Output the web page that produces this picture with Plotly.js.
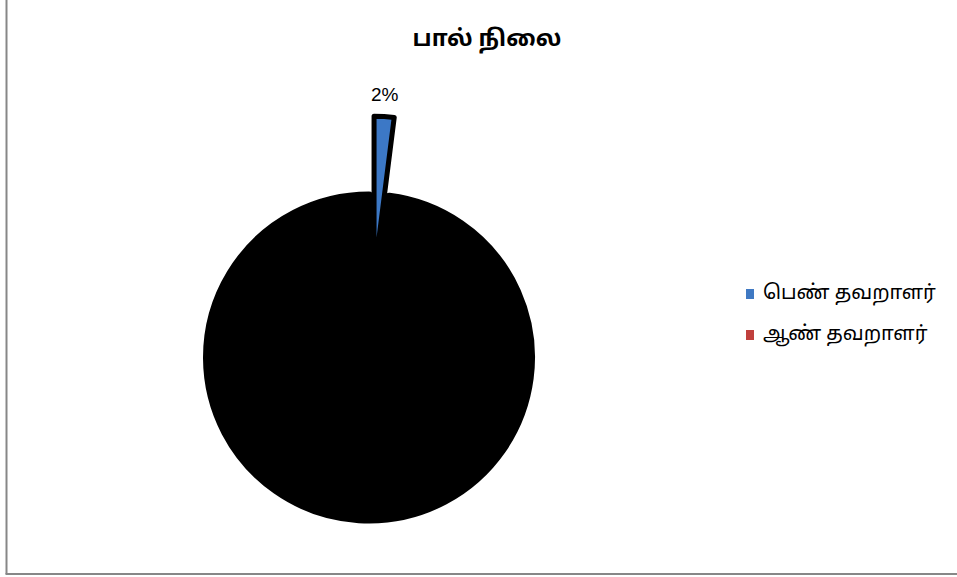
<!DOCTYPE html>
<html>
<head>
<meta charset="utf-8">
<script src="https://cdn.plot.ly/plotly-3.0.1.min.js"></script>
<style>
html, body { margin: 0; padding: 0; overflow: hidden; background: #ffffff; }
#chart { width: 957px; height: 700px; }
</style>
</head>
<body>
<div id="chart"></div>
<script>
// ---- data ----
const chartTitle = "பால் நிலை";
const labels = ["பெண் தவறாளர்", "ஆண் தவறாளர்"];
const values = [2, 98];
const legendColors = ["#3F79C3", "#C0403D"];
const sliceColors = ["#3C78C6", "#000000"];

// ---- geometry helpers (div is taller than the window; extra bottom is cropped) ----
const W = 957, H = 700;
const px = x => x / W;
const py = y => (H - y) / H;

const tamilFont = "'Noto Sans Tamil', 'Lohit Tamil', 'Noto Sans', 'DejaVu Sans', sans-serif";

const pullFrac = 0.5;
const rPx = 161;
const half = rPx * (1 + pullFrac);
const cx = 369, cy = 357.5;

const trace = {
  type: "pie",
  labels: labels,
  values: values,
  sort: false,
  direction: "clockwise",
  rotation: 0,
  pull: [pullFrac, 0],
  marker: {
    colors: sliceColors,
    line: { color: "#000000", width: [5, 10] }
  },
  textinfo: "none",
  showlegend: false,
  hoverinfo: "label+percent",
  domain: { x: [px(cx - half), px(cx + half)], y: [py(cy + half), py(cy - half)] }
};

const total = values.reduce((a, b) => a + b, 0);
const pctText = Math.round(100 * values[0] / total) + "%";

const shapes = [
  { type: "line", xref: "paper", yref: "paper", x0: px(6.5), x1: px(6.5), y0: py(-5), y1: py(574), line: { color: "#878787", width: 2 } },
  { type: "line", xref: "paper", yref: "paper", x0: px(5.5), x1: px(962), y0: py(574), y1: py(574), line: { color: "#878787", width: 2 } }
];
const annotations = [
  { xref: "paper", yref: "paper", x: px(385), y: py(95), xanchor: "center", yanchor: "middle",
    showarrow: false, text: pctText,
    font: { family: "'Liberation Sans', Arial, sans-serif", size: 19, color: "#000000" } }
];
const legendY = [294, 335];
labels.forEach((lab, i) => {
  shapes.push({
    type: "rect", xref: "paper", yref: "paper",
    x0: px(746), x1: px(754), y0: py(legendY[i] + 5), y1: py(legendY[i] - 5),
    fillcolor: legendColors[i], line: { width: 0 }
  });
  annotations.push({
    xref: "paper", yref: "paper", x: px(761), y: py(legendY[i]),
    xanchor: "left", yanchor: "middle", showarrow: false,
    text: lab, font: { family: tamilFont, size: 20, color: "#000000" }
  });
});

const layout = {
  width: W, height: H,
  margin: { l: 0, r: 0, t: 0, b: 0 },
  paper_bgcolor: "#ffffff",
  title: {
    text: "<b>" + chartTitle + "</b>",
    x: px(487), xanchor: "center", xref: "paper",
    y: py(38), yanchor: "middle", yref: "paper",
    font: { family: tamilFont, size: 23, color: "#000000" }
  },
  shapes: shapes,
  annotations: annotations,
  showlegend: false
};

Plotly.newPlot("chart", [trace], layout, { displayModeBar: false, staticPlot: true });
</script>
</body>
</html>
